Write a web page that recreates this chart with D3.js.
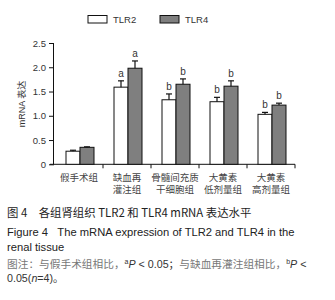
<!DOCTYPE html>
<html lang="zh">
<head>
<meta charset="UTF-8">
<title>TLR2 TLR4</title>
<script src="https://d3js.org/d3.v7.min.js"></script>
<style>
  body { margin: 0; background: #fff; }
  text { font-family: "Liberation Sans", Arial, "Noto Sans CJK SC", sans-serif; }
  .cjk { font-family: "Noto Sans CJK SC", sans-serif; }
</style>
</head>
<body>
<div class="canvas"></div>
<script>
  const groups = [['假手术组'], ['缺血再', '灌注组'], ['骨髓间充质', '干细胞组'], ['大黄素', '低剂量组'], ['大黄素', '高剂量组']];
  const series = ['TLR2', 'TLR4'];
  const tlr2 = [0.27, 1.59, 1.33, 1.29, 1.03];
  const tlr4 = [0.35, 1.98, 1.65, 1.61, 1.22];
  const tlr2Err = [0.02, 0.13, 0.12, 0.09, 0.04];
  const tlr4Err = [0.01, 0.15, 0.11, 0.11, 0.04];
  const tlr2Sig = ['', 'a', 'b', 'b', 'b'];
  const tlr4Sig = ['', 'a', 'b', 'b', 'b'];
  const yTicks = [0, 0.5, 1.0, 1.5, 2.0, 2.5];

  const width = 335, height = 300;
  const svg = d3.select('.canvas').append('svg')
                .attr('width', width).attr('height', height);

  const x = d3.scaleBand().domain(d3.range(groups.length)).range([55, 295]);
  const xs = d3.scaleBand().domain(series).range([0, 28]);
  const y = d3.scaleLinear().domain([0, 2.5]).range([164.3, 43]);

  const rows = [];
  groups.forEach((g, i) => {
    rows.push({g: i, s: 'TLR2', v: tlr2[i], e: tlr2Err[i], sig: tlr2Sig[i]});
    rows.push({g: i, s: 'TLR4', v: tlr4[i], e: tlr4Err[i], sig: tlr4Sig[i]});
  });
  const fill = {TLR2: '#ffffff', TLR4: '#7f7f7f'};
  const bx = d => x(d.g) + (x.bandwidth() - 28) / 2 + 1 + xs(d.s);

  // axes
  const yAxis = d3.axisLeft(y).tickValues(yTicks).tickSize(5)
                  .tickFormat(d => d === 0 ? '0' : d3.format('.1f')(d));
  const yG = svg.append('g').attr('transform', 'translate(54,0)').call(yAxis);
  yG.select('.domain').attr('d', `M-0.5,${y(2.5)}V${y(0)}`);

  const xG = svg.append('g').attr('transform', `translate(0,${y(0)})`)
                .call(d3.axisBottom(x).tickSize(4).tickFormat(''));
  xG.select('.domain').attr('d', 'M50,0H295');
  xG.selectAll('.tick line').attr('transform', `translate(${x.bandwidth() / 2},0)`);
  svg.selectAll('.tick text').attr('font-size', 9.5).attr('fill', '#333')
     .style('font-family', '"Liberation Sans", Arial, sans-serif');
  svg.selectAll('.domain, .tick line').attr('stroke', '#111');

  // bars
  svg.append('g').selectAll('rect').data(rows).enter().append('rect')
     .attr('x', bx).attr('width', xs.bandwidth())
     .attr('y', d => y(d.v)).attr('height', d => y(0) - y(d.v))
     .attr('fill', d => fill[d.s]).attr('stroke', '#111').attr('stroke-width', 1);

  // error bars (upper only)
  const eb = svg.append('g').attr('stroke', '#111').attr('stroke-width', 1.2);
  rows.forEach(d => {
    const cx = bx(d) + xs.bandwidth() / 2;
    eb.append('line').attr('x1', cx).attr('x2', cx).attr('y1', y(d.v)).attr('y2', y(d.v + d.e));
    eb.append('line').attr('x1', cx - 3).attr('x2', cx + 3).attr('y1', y(d.v + d.e)).attr('y2', y(d.v + d.e));
  });

  // significance letters
  svg.append('g').selectAll('text').data(rows.filter(d => d.sig)).enter().append('text')
     .attr('x', d => bx(d) + xs.bandwidth() / 2)
     .attr('y', d => y(d.v + d.e) - 4)
     .attr('text-anchor', 'middle').attr('font-size', 10).attr('fill', '#333')
     .text(d => d.sig);

  // category labels
  const cl = svg.append('g').attr('class', 'cjk').attr('font-size', 9.5).attr('fill', '#444');
  groups.forEach((g, i) => {
    g.forEach((line, k) => {
      cl.append('text').attr('class', 'cjk')
        .attr('x', x(i) + x.bandwidth() / 2).attr('y', 180.5 + k * 12.5)
        .attr('text-anchor', 'middle').text(line);
    });
  });

  // y label
  svg.append('text').attr('transform', 'translate(25,104) rotate(-90)')
     .attr('text-anchor', 'middle').attr('font-size', 9).attr('fill', '#333')
     .text('mRNA 表达');

  // legend
  const lg = svg.append('g');
  [[88, 'TLR2'], [160, 'TLR4']].forEach(([lx, s]) => {
    lg.append('rect').attr('x', lx).attr('y', 15.5).attr('width', 19).attr('height', 7.5)
      .attr('fill', fill[s]).attr('stroke', '#111');
    lg.append('text').attr('x', lx + 25).attr('y', 23).attr('font-size', 9.5)
      .attr('fill', '#333').text(s);
  });

  // caption
  const cap = svg.append('g');
  cap.append('text').attr('x', 7).attr('y', 217).attr('fill', '#222').attr('font-size', 11.4)
     .attr('class', 'cjk').text('图 4\u3000各组肾组织 TLR2 和 TLR4 mRNA 表达水平');
  cap.append('text').attr('x', 7).attr('y', 235.5).attr('fill', '#222').attr('font-size', 11.2)
     .text('Figure 4\u00a0\u00a0\u00a0The mRNA expression of TLR2 and TLR4 in the');
  cap.append('text').attr('x', 7).attr('y', 250.5).attr('fill', '#222').attr('font-size', 11.2)
     .text('renal tissue');
  const n1 = cap.append('text').attr('x', 7).attr('y', 267.5).attr('font-size', 10.7);
  n1.append('tspan').attr('class', 'cjk').attr('fill', '#777').text('图注：与假手术组相比，');
  n1.append('tspan').attr('font-size', 7).attr('dy', -4).attr('fill', '#333').text('a');
  n1.append('tspan').attr('dy', 4).attr('font-style', 'italic').attr('fill', '#333').text('P');
  n1.append('tspan').attr('fill', '#333').text(' < 0.05；');
  n1.append('tspan').attr('class', 'cjk').attr('fill', '#777').text('与缺血再灌注组相比，');
  n1.append('tspan').attr('font-size', 7).attr('dy', -4).attr('fill', '#333').text('b');
  n1.append('tspan').attr('dy', 4).attr('font-style', 'italic').attr('fill', '#333').text('P');
  n1.append('tspan').attr('fill', '#333').text(' <');
  const n2 = cap.append('text').attr('x', 7).attr('y', 282).attr('fill', '#333').attr('font-size', 10.7);
  n2.append('tspan').text('0.05(');
  n2.append('tspan').attr('font-style', 'italic').text('n');
  n2.append('tspan').text('=4)');
  n2.append('tspan').attr('class', 'cjk').text('。');
</script>
</body>
</html>
